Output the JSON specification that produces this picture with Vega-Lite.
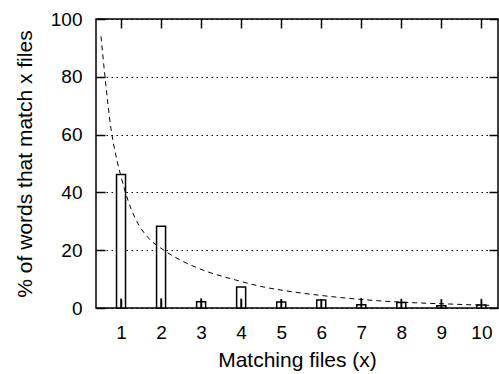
{
  "$schema": "https://vega.github.io/schema/vega-lite/v6.json",
  "width": 402,
  "height": 289,
  "autosize": {"type": "none"},
  "padding": {"left": 96, "top": 19, "right": 1, "bottom": 66},
  "background": "white",
  "config": {
    "view": {"stroke": "black", "strokeWidth": 1.5},
    "font": "Liberation Sans",
    "axis": {
      "labelFont": "Liberation Sans",
      "titleFont": "Liberation Sans",
      "labelColor": "black",
      "titleColor": "black",
      "labelFontSize": 19,
      "titleFontSize": 21,
      "titleFontWeight": "normal",
      "domain": false,
      "tickColor": "black",
      "tickWidth": 1.5,
      "tickSize": 9
    }
  },
  "datasets": {
    "bars": [
      {"x": 1, "pct": 46.2, "err": 3.3},
      {"x": 2, "pct": 28.3, "err": 3.4},
      {"x": 3, "pct": 2.2, "err": 3.4},
      {"x": 4, "pct": 7.3, "err": 3.3},
      {"x": 5, "pct": 2.1, "err": 3.1},
      {"x": 6, "pct": 2.8, "err": 3.0},
      {"x": 7, "pct": 1.1, "err": 3.5},
      {"x": 8, "pct": 1.9, "err": 3.2},
      {"x": 9, "pct": 0.8, "err": 3.0},
      {"x": 10, "pct": 1.0, "err": 3.2}
    ],
    "curve": [
      {"x": 0.5, "y": 94},
      {"x": 0.6, "y": 80},
      {"x": 0.75, "y": 62},
      {"x": 0.9, "y": 51},
      {"x": 1.0, "y": 45.5},
      {"x": 1.1, "y": 40.5},
      {"x": 1.26, "y": 34},
      {"x": 1.42, "y": 29.3},
      {"x": 1.66, "y": 24.6},
      {"x": 2.07, "y": 20},
      {"x": 2.48, "y": 16.6},
      {"x": 3.05, "y": 13.1},
      {"x": 3.86, "y": 9.7},
      {"x": 4.52, "y": 7.4},
      {"x": 5.09, "y": 6.0},
      {"x": 5.9, "y": 4.5},
      {"x": 6.72, "y": 3.3},
      {"x": 7.53, "y": 2.4},
      {"x": 8.35, "y": 1.8},
      {"x": 9.16, "y": 1.4},
      {"x": 9.98, "y": 1.0},
      {"x": 10.29, "y": 0.9}
    ]
  },
  "layer": [
    {
      "data": {"name": "bars"},
      "mark": {"type": "bar", "size": 9, "fill": "white", "stroke": "black", "strokeWidth": 1.5},
      "encoding": {
        "x": {
          "field": "x", "type": "quantitative",
          "scale": {"domain": [0.5, 10.29], "nice": false, "zero": false},
          "axis": {
            "orient": "bottom",
            "values": [1, 2, 3, 4, 5, 6, 7, 8, 9, 10],
            "title": "Matching files (x)",
            "ticks": false,
            "offset": 0,
            "labelPadding": 15,
            "titlePadding": 7,
            "grid": false
          }
        },
        "y": {
          "field": "pct", "type": "quantitative",
          "scale": {"domain": [0, 100], "nice": false},
          "axis": {
            "orient": "left",
            "values": [0, 20, 40, 60, 80, 100],
            "title": "% of words that match x files",
            "ticks": false,
            "offset": 0,
            "labelPadding": 14,
            "titlePadding": 15,
            "grid": true,
            "gridColor": "black",
            "gridOpacity": 1,
            "gridWidth": 1,
            "gridDash": [1.5, 3.5]
          }
        }
      }
    },
    {
      "data": {"name": "bars"},
      "mark": {"type": "rule", "color": "black", "strokeWidth": 1.5},
      "encoding": {
        "x": {"field": "x", "type": "quantitative",
          "axis": {"orient": "top", "offset": -9, "zindex": 1, "values": [1, 2, 3, 4, 5, 6, 7, 8, 9, 10], "labels": false, "title": null, "grid": false}},
        "y": {"field": "err", "type": "quantitative",
          "axis": {"orient": "right", "offset": -9, "zindex": 1, "values": [0, 20, 40, 60, 80, 100], "labels": false, "title": null, "grid": false}},
        "y2": {"datum": 0}
      }
    },
    {
      "data": {"name": "curve"},
      "mark": {"type": "line", "color": "black", "strokeWidth": 1, "strokeDash": [5, 4], "interpolate": "monotone", "clip": true},
      "encoding": {
        "x": {"field": "x", "type": "quantitative",
          "axis": {"orient": "bottom", "offset": -9, "zindex": 1, "values": [1, 2, 3, 4, 5, 6, 7, 8, 9, 10], "labels": false, "title": null, "grid": false}},
        "y": {"field": "y", "type": "quantitative",
          "axis": {"orient": "left", "offset": -9, "zindex": 1, "values": [0, 20, 40, 60, 80, 100], "labels": false, "title": null, "grid": false}}
      }
    }
  ],
  "resolve": {"axis": {"x": "independent", "y": "independent"}}
}
